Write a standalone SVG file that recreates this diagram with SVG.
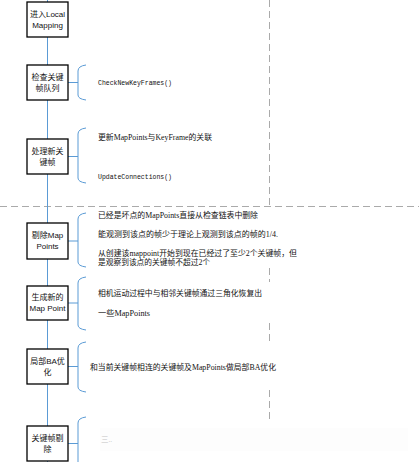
<svg xmlns="http://www.w3.org/2000/svg" width="419" height="462" viewBox="0 0 419 462">
<style>
.box{fill:#fff;stroke:#000;stroke-width:1.3}
.lbl{font-family:"Liberation Sans","Noto Sans CJK SC",sans-serif;font-size:8px;fill:#111;text-anchor:middle}
.conn{stroke:#5b9bd5;stroke-width:1;fill:none}
.dash{stroke:#aaa;stroke-width:1;stroke-dasharray:7,4;fill:none}
.txt{font-family:"Liberation Serif","Noto Sans CJK SC",serif;font-size:7.5px;fill:#111}
.code{font-family:"Liberation Mono",monospace;font-size:6.6px;fill:#111}
</style>
<rect width="419" height="462" fill="#fff"/>
<g id="dividers">
<path class="dash" d="M0,206.5 H419"/>
<path class="dash" d="M269.5,0 V206"/>
<path class="dash" d="M269.5,268 V282"/>
<path class="dash" d="M269.5,323 V342"/>
<path class="dash" d="M269.5,390 V420"/>
</g>
<g id="connectors">
<path class="conn" d="M47.5,0 V2 M47.5,37 V65 M47.5,100 V139 M47.5,174 V223 M47.5,259 V286 M47.5,320 V349 M47.5,384 V426 M47.5,461 V462"/>
<path class="conn" d="M68,82.5 H78 M86,65 Q78,66 78,71 L78,95 Q78,99 86,100"/>
<path class="conn" d="M68,156.5 H78 M86,128 Q78,129 78,134 L78,178 Q78,182 86,183"/>
<path class="conn" d="M68,241 H78 M86,213 Q78,214 78,219 L78,262 Q78,266 86,267"/>
<path class="conn" d="M68,303 H78 M86,277 Q78,278 78,283 L78,325 Q78,329 86,330"/>
<path class="conn" d="M68,366.5 H78 M86,342 Q78,343 78,348 L78,387 Q78,391 86,392"/>
<path class="conn" d="M68,443.5 H78 M86,417 Q78,418 78,423 L78,462"/>
</g>
<g id="n1"><rect class="box" x="27" y="2" width="41" height="35"/>
<text class="lbl" x="47.5" y="17">进入Local</text><text class="lbl" x="47.5" y="28">Mapping</text></g>
<g id="n2"><rect class="box" x="27" y="65" width="41" height="35"/>
<text class="lbl" x="47.5" y="80">检查关键</text><text class="lbl" x="47.5" y="91">帧队列</text></g>
<g id="n3"><rect class="box" x="27" y="139" width="41" height="35"/>
<text class="lbl" x="47.5" y="154">处理新关</text><text class="lbl" x="47.5" y="165">键帧</text></g>
<g id="n4"><rect class="box" x="27" y="223" width="41" height="36"/>
<text class="lbl" x="47.5" y="238">剔除Map</text><text class="lbl" x="47.5" y="249">Points</text></g>
<g id="n5"><rect class="box" x="27" y="286" width="41" height="34"/>
<text class="lbl" x="47.5" y="300">生成新的</text><text class="lbl" x="47.5" y="311">Map Point</text></g>
<g id="n6"><rect class="box" x="27" y="349" width="41" height="35"/>
<text class="lbl" x="47.5" y="364">局部BA优</text><text class="lbl" x="47.5" y="375">化</text></g>
<g id="n7"><rect class="box" x="27" y="426" width="41" height="35"/>
<text class="lbl" x="47.5" y="441">关键帧剔</text><text class="lbl" x="47.5" y="452">除</text></g>
<g id="notes">
<text class="code" x="98" y="84.5" textLength="74" lengthAdjust="spacingAndGlyphs">CheckNewKeyFrames()</text>
<text class="txt" x="98" y="139.5" textLength="114" lengthAdjust="spacingAndGlyphs">更新MapPoints与KeyFrame的关联</text>
<text class="code" x="98" y="178.5" textLength="74" lengthAdjust="spacingAndGlyphs">UpdateConnections()</text>
<text class="txt" x="98" y="217.5" textLength="160" lengthAdjust="spacingAndGlyphs">已经是坏点的MapPoints直接从检查链表中删除</text>
<text class="txt" x="98" y="236.5" textLength="180" lengthAdjust="spacingAndGlyphs">能观测到该点的帧少于理论上观测到该点的帧的1/4.</text>
<text class="txt" x="98" y="255.5" textLength="199" lengthAdjust="spacingAndGlyphs">从创建该mappoint开始到现在已经过了至少2个关键帧，但</text>
<text class="txt" x="98" y="265" textLength="112" lengthAdjust="spacingAndGlyphs">是观察到该点的关键帧不超过2个</text>
<text class="txt" x="98" y="295.5" textLength="164" lengthAdjust="spacingAndGlyphs">相机运动过程中与相邻关键帧通过三角化恢复出</text>
<text class="txt" x="98" y="315.5" textLength="52" lengthAdjust="spacingAndGlyphs">一些MapPoints</text>
<text class="txt" x="90" y="369.5" textLength="186" lengthAdjust="spacingAndGlyphs">和当前关键帧相连的关键帧及MapPoints做局部BA优化</text>
<rect x="100" y="428" width="308" height="23" fill="#fdfdfd"/>
<text class="txt" x="101" y="442" style="fill:#c4c4c4">三..</text>
</g>
</svg>
